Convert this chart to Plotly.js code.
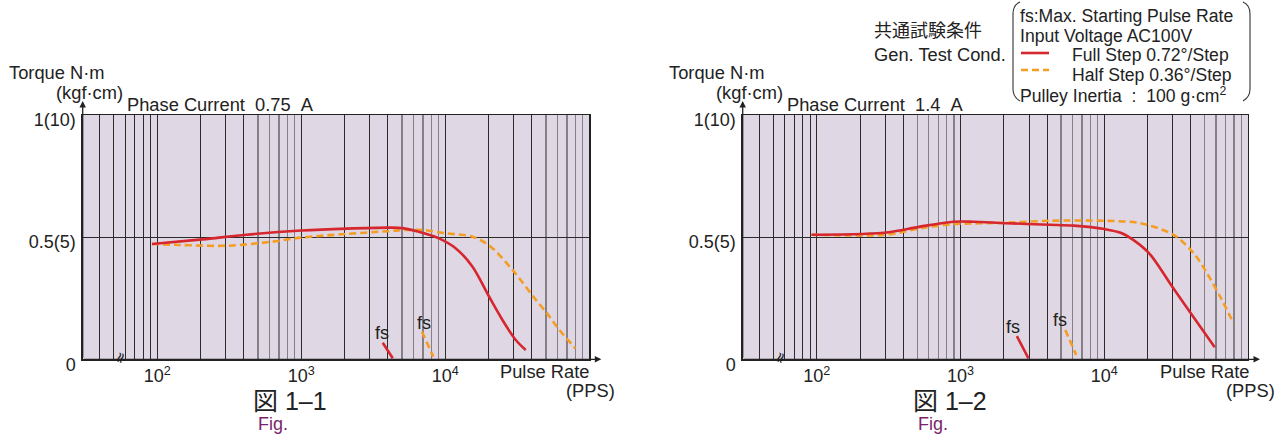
<!DOCTYPE html>
<html>
<head>
<meta charset="utf-8">
<script src="https://cdn.plot.ly/plotly-3.0.1.min.js"></script>
<style>html,body{margin:0;padding:0;background:#fff;}</style>
</head>
<body>
<div id="chart" style="width:1282px;height:436px;"></div>
<script>
// ---- Data ----
// Chart 1: Phase current 0.75 A
const full1X = [92, 206, 416, 1000, 2050, 4160, 5170, 7120, 9040, 11850, 15460, 20180, 24950, 30880, 36200];
const full1Y = [0.472, 0.491, 0.510, 0.527, 0.535, 0.539, 0.536, 0.516, 0.495, 0.454, 0.379, 0.256, 0.161, 0.079, 0.038];
const half1X = [92, 144, 312, 617, 1000, 2050, 4160, 5170, 7120, 10000, 15460, 20280, 29300, 40960, 50900, 60700, 80000];
const half1Y = [0.472, 0.468, 0.465, 0.481, 0.498, 0.513, 0.525, 0.529, 0.529, 0.516, 0.502, 0.465, 0.366, 0.256, 0.188, 0.127, 0.045];
const fsFull1X = [3680, 4320];
const fsFull1Y = [0.068, 0.004];
const fsHalf1X = [6890, 8260];
const fsHalf1Y = [0.113, 0.011];

// Chart 2: Phase current 1.4 A
const full2X = [92, 205, 317, 524, 893, 1231, 2070, 4160, 6150, 10040, 13000, 16000, 20750, 29500, 41970, 58700];
const full2Y = [0.510, 0.513, 0.520, 0.543, 0.563, 0.563, 0.557, 0.551, 0.547, 0.533, 0.518, 0.488, 0.431, 0.300, 0.171, 0.049];
const half2X = [92, 307, 524, 893, 2070, 4160, 10040, 17800, 30400, 41900, 51900, 64100, 79400];
const half2Y = [0.510, 0.510, 0.536, 0.553, 0.559, 0.567, 0.567, 0.557, 0.509, 0.434, 0.352, 0.256, 0.147];
const fsFull2X = [2467, 2970];
const fsFull2Y = [0.095, 0.004];
const fsHalf2X = [5360, 6380];
const fsHalf2Y = [0.120, 0.018];

// Axis ticks / labels
const majorGridX = [40, 50, 60, 70, 80, 90, 100, 200, 300, 400, 1000, 2000, 3000, 4000, 10000, 20000, 30000, 40000, 100000];
const minorGridX = [500, 600, 700, 800, 900, 5000, 6000, 7000, 8000, 9000, 50000, 60000, 70000, 80000, 90000];
const decadeLabels = {100: '10<sup>2</sup>', 1000: '10<sup>3</sup>', 10000: '10<sup>4</sup>'};
const yTickVals = [0, 0.5, 1];
const yTickText = ['0', '0.5(5)', '1(10)'];
const phaseCurrents = ['0.75', '1.4'];
const figLabels = ['図 1–1', '図 1–2'];

// ---- Layout helpers ----
const W = 1282, H = 436;
const px = x => x / W;
const py = y => 1 - y / H;
const FONT = 'Liberation Sans, Arial, Helvetica, sans-serif';
const CJK = 'Liberation Sans, Arial, Noto Sans CJK JP, sans-serif';
const FS = 18.3;
const RED = '#d6262e';
const ORANGE = '#f59d22';
const DARK = '#222222';

const xTickText = majorGridX.map(v => decadeLabels[v] || '');

function xAxis(domain, anchor, range) {
  return {
    type: 'log', domain: domain, anchor: anchor, range: range,
    tickmode: 'array', tickvals: majorGridX, ticktext: xTickText,
    showgrid: true, gridcolor: '#2b2b2b', gridwidth: 1,
    minor: {tickmode: 'array', tickvals: minorGridX, showgrid: true, gridcolor: '#858085', gridwidth: 1.4, ticks: ''},
    ticks: '', showline: true, linecolor: DARK, linewidth: 1.3, mirror: true,
    zeroline: false, tickfont: {family: FONT, size: 18, color: '#222'},
    fixedrange: true
  };
}
function yAxis(domain, anchor) {
  return {
    domain: domain, anchor: anchor, range: [0, 1],
    tickmode: 'array', tickvals: yTickVals, ticktext: yTickText,
    showgrid: true, gridcolor: '#2b2b2b', gridwidth: 1,
    ticks: '', showline: true, linecolor: DARK, linewidth: 1.3, mirror: true,
    zeroline: false, tickfont: {family: FONT, size: 18, color: '#222'},
    ticklabelstandoff: 2, ticklabelshift: 5,
    fixedrange: true
  };
}

const yDom = [py(359.3), py(115)];
const panels = [
  {xa: 'x', ya: 'y', left: 82.7, right: 589.3, range: [1.483, 5.0]},
  {xa: 'x2', ya: 'y2', left: 742.7, right: 1248, range: [1.485, 5.0]}
];

function lineTrace(xs, ys, color, dash, xa, ya) {
  return {
    x: xs, y: ys, xaxis: xa, yaxis: ya, type: 'scatter', mode: 'lines',
    line: {color: color, width: 2.6, dash: dash, shape: 'spline', smoothing: 0.9},
    hoverinfo: 'skip', showlegend: false
  };
}

const traces = [
  lineTrace(half1X, half1Y, ORANGE, '7px,4px', 'x', 'y'),
  lineTrace(full1X, full1Y, RED, 'solid', 'x', 'y'),
  lineTrace(fsFull1X, fsFull1Y, RED, 'solid', 'x', 'y'),
  lineTrace(fsHalf1X, fsHalf1Y, ORANGE, '7px,4px', 'x', 'y'),
  lineTrace(half2X, half2Y, ORANGE, '7px,4px', 'x2', 'y2'),
  lineTrace(full2X, full2Y, RED, 'solid', 'x2', 'y2'),
  lineTrace(fsFull2X, fsFull2Y, RED, 'solid', 'x2', 'y2'),
  lineTrace(fsHalf2X, fsHalf2Y, ORANGE, '7px,4px', 'x2', 'y2')
];

function txt(text, x, y, opts) {
  opts = opts || {};
  return Object.assign({
    text: text, xref: 'paper', yref: 'paper', x: px(x), y: py(y),
    xanchor: 'left', yanchor: 'middle', showarrow: false,
    font: {family: FONT, size: FS, color: '#222'}
  }, opts);
}

const annotations = [];
const fsPos = [
  [[Math.log10(3640), 0.108], [Math.log10(7120), 0.149]],
  [[Math.log10(2317), 0.132], [Math.log10(4913), 0.161]]
];
panels.forEach((p, i) => {
  const off = p.left - 82.7;
  annotations.push(txt('Torque N·m', 7 + off, 72));
  annotations.push(txt('(kgf·cm)', 54 + off, 92));
  annotations.push(txt('Phase Current\u00a0\u00a0' + phaseCurrents[i] + '\u00a0\u00a0A', 125 + off, 104));
  annotations.push(txt('Pulse Rate', 498 + off, 371));
  annotations.push(txt('(PPS)', 564 + off, 390));
  annotations.push(txt(figLabels[i], 251 + off, 401, {font: {family: CJK, size: 25, color: '#222'}}));
  annotations.push(txt('Fig.', 256 + off, 424, {font: {family: FONT, size: 18, color: '#7b1f6e'}}));
  // break mark on x axis
  annotations.push(txt('≈', 120 + off, 358, {xanchor: 'center', textangle: -72, font: {family: 'DejaVu Sans, sans-serif', size: 15, color: '#111'}}));
  // axis arrows
  annotations.push({xref: 'paper', yref: 'paper', x: px(p.left), y: py(101), ax: 0, ay: 258, text: '',
    showarrow: true, arrowhead: 2, arrowsize: 1, arrowwidth: 1.3, arrowcolor: DARK});
  annotations.push({xref: 'paper', yref: 'paper', x: px(p.right + 12), y: py(359.3), ax: -(p.right + 12 - p.left), ay: 0, text: '',
    showarrow: true, arrowhead: 2, arrowsize: 1, arrowwidth: 1.3, arrowcolor: DARK});
  // fs labels
  fsPos[i].forEach(fp => {
    annotations.push({xref: p.xa, yref: p.ya, x: fp[0], y: fp[1], text: 'fs', showarrow: false,
      xanchor: 'center', yanchor: 'middle', font: {family: FONT, size: 18, color: '#222'}});
  });
});

// Test-condition legend block
const LFS = 17.6;
const lf = {font: {family: FONT, size: LFS, color: '#222'}};
annotations.push(txt('共通試験条件', 872, 29, {font: {family: 'Noto Sans CJK JP, sans-serif', size: 18, color: '#222'}}));
annotations.push(txt('Gen. Test Cond.', 872, 54));
annotations.push(txt('fs:Max. Starting Pulse Rate', 1018, 16, lf));
annotations.push(txt('Input Voltage AC100V', 1018, 36, lf));
annotations.push(txt('Full Step 0.72°/Step', 1070, 55, lf));
annotations.push(txt('Half Step 0.36°/Step', 1070, 75, lf));
annotations.push(txt('Pulley Inertia \u00a0:\u00a0 100 g·cm<sup>2</sup>', 1018, 95, lf));

function P(x, y) { return px(x).toFixed(5) + ',' + py(y).toFixed(5); }
const shapes = [
  {type: 'line', xref: 'paper', yref: 'paper', x0: px(1021), x1: px(1049), y0: py(53), y1: py(53), line: {color: RED, width: 2.6}},
  {type: 'line', xref: 'paper', yref: 'paper', x0: px(1021), x1: px(1049), y0: py(70), y1: py(70), line: {color: ORANGE, width: 2.6, dash: '7px,4px'}},
  {type: 'path', xref: 'paper', yref: 'paper', line: {color: '#333', width: 1.1},
    path: 'M' + P(1020, 2) + ' Q' + P(1013, 5) + ' ' + P(1013, 14) + ' L' + P(1013, 89) + ' Q' + P(1013, 97) + ' ' + P(1020, 101)},
  {type: 'path', xref: 'paper', yref: 'paper', line: {color: '#333', width: 1.1},
    path: 'M' + P(1243, 2) + ' Q' + P(1250, 5) + ' ' + P(1250, 14) + ' L' + P(1250, 89) + ' Q' + P(1250, 97) + ' ' + P(1243, 101)}
];

const layout = {
  width: W, height: H,
  margin: {l: 0, r: 0, t: 0, b: 0, pad: 0},
  paper_bgcolor: '#ffffff',
  plot_bgcolor: '#e0d7e4',
  showlegend: false,
  xaxis: xAxis([px(82.7), px(589.3)], 'y', panels[0].range),
  yaxis: yAxis(yDom, 'x'),
  xaxis2: xAxis([px(742.7), px(1248)], 'y2', panels[1].range),
  yaxis2: yAxis(yDom, 'x2'),
  annotations: annotations,
  shapes: shapes,
  font: {family: FONT, size: FS, color: '#222'}
};

Plotly.newPlot('chart', traces, layout, {staticPlot: true, displayModeBar: false});
</script>
</body>
</html>
